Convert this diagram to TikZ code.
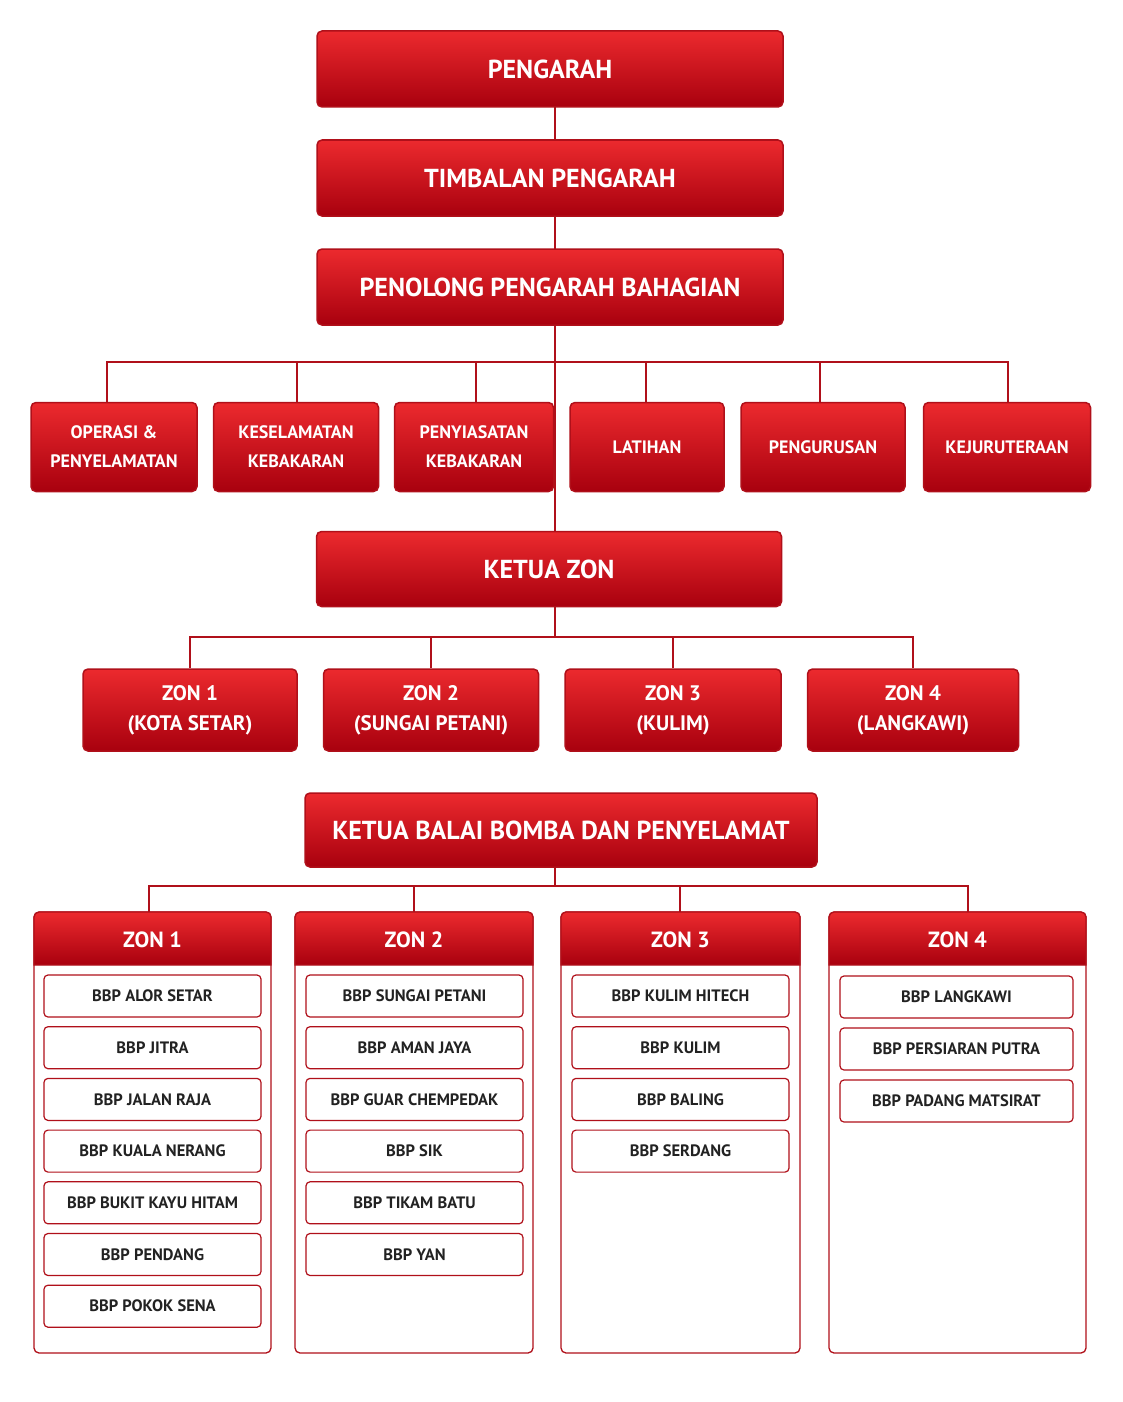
\documentclass[tikz,border=0pt]{standalone}
\usepackage{fontspec}
\setmainfont{PT Sans}
\usetikzlibrary{backgrounds}
\definecolor{rtop}{HTML}{EC2A2E}
\definecolor{rbot}{HTML}{A8000E}
\definecolor{rdraw}{HTML}{B0101A}
\definecolor{itxt}{HTML}{222222}
\tikzset{
 rbox/.style={rounded corners=5pt, draw=rdraw, line width=1.5pt, top color=rtop, bottom color=rbot, text=white, align=center, inner sep=0pt, font=\bfseries},
 big/.style={rbox, font=\fontsize{26}{28}\selectfont\bfseries},
 mid/.style={rbox, font=\fontsize{18}{29}\selectfont\bfseries},
 zn/.style={rbox, font=\fontsize{21}{30}\selectfont\bfseries},
 panel/.style={draw=rdraw, line width=1.3pt, rounded corners=5pt, fill=white, inner sep=0pt},
 item/.style={draw=rdraw, line width=1.2pt, rounded corners=4pt, fill=white, text=itxt, inner sep=0pt, minimum height=42pt, font=\fontsize{16.5}{18}\selectfont\bfseries},
 conn/.style={draw=rdraw, line width=2pt},
 hd/.style={text=white, font=\fontsize{22}{26}\selectfont\bfseries},
}
\begin{document}
\begin{tikzpicture}[x=1pt,y=-1pt]
\useasboundingbox (0,0) rectangle (1122,1402);
\node[big, minimum width=466pt, minimum height=76pt] (p) at (550,69) {PENGARAH};
\node[big, minimum width=466pt, minimum height=76pt] (t) at (550,178) {TIMBALAN PENGARAH};
\node[big, minimum width=466pt, minimum height=76pt] (pen) at (550,287) {PENOLONG PENGARAH BAHAGIAN};
\node[mid, minimum width=166pt, minimum height=89pt] (o1) at (114,447) {OPERASI \&\\PENYELAMATAN};
\node[mid, minimum width=165pt, minimum height=89pt] (o2) at (296,447) {KESELAMATAN\\KEBAKARAN};
\node[mid, minimum width=159pt, minimum height=89pt] (o3) at (474,447) {PENYIASATAN\\KEBAKARAN};
\node[mid, minimum width=154pt, minimum height=89pt] (o4) at (647,447) {LATIHAN};
\node[mid, minimum width=164pt, minimum height=89pt] (o5) at (823,447) {PENGURUSAN};
\node[mid, minimum width=167pt, minimum height=89pt] (o6) at (1007,447) {KEJURUTERAAN};
\node[big, minimum width=465pt, minimum height=75pt] (kz) at (549,569) {KETUA ZON};
\node[zn, minimum width=214pt, minimum height=82pt] (z1) at (190,710) {ZON 1\\(KOTA SETAR)};
\node[zn, minimum width=215pt, minimum height=82pt] (z2) at (431,710) {ZON 2\\(SUNGAI PETANI)};
\node[zn, minimum width=216pt, minimum height=82pt] (z3) at (673,710) {ZON 3\\(KULIM)};
\node[zn, minimum width=211pt, minimum height=82pt] (z4) at (913,710) {ZON 4\\(LANGKAWI)};
\node[big, minimum width=512pt, minimum height=74pt] (kb) at (561,830) {KETUA BALAI BOMBA DAN PENYELAMAT};
% panels
\foreach \n/\a/\b in {1/34/271,2/295/533,3/561/800,4/829/1086}{
  \node[panel, minimum width={\b-\a}, minimum height=441pt] (P\n) at ({(\a+\b)/2},1132.5) {};
  \shade[top color=rtop, bottom color=rbot, draw=rdraw, line width=1.3pt] (\a,965) [rounded corners=5pt] -- (\a,912) -- (\b,912) [sharp corners] -- (\b,965) -- cycle;
  \node[hd] (H\n) at ({(\a+\b)/2},940) {ZON \n};
}
\foreach \t [count=\i] in {BBP ALOR SETAR,BBP JITRA,BBP JALAN RAJA,BBP KUALA NERANG,BBP BUKIT KAYU HITAM,BBP PENDANG,BBP POKOK SENA}
  \node[item, minimum width=217pt] (a\i) at (152.5,{996+51.7*(\i-1)}) {\t};
\foreach \t [count=\i] in {BBP SUNGAI PETANI,BBP AMAN JAYA,BBP GUAR CHEMPEDAK,BBP SIK,BBP TIKAM BATU,BBP YAN}
  \node[item, minimum width=217pt] (b\i) at (414.5,{996+51.7*(\i-1)}) {\t};
\foreach \t [count=\i] in {BBP KULIM HITECH,BBP KULIM,BBP BALING,BBP SERDANG}
  \node[item, minimum width=217pt] (c\i) at (680.5,{996+51.7*(\i-1)}) {\t};
\foreach \t [count=\i] in {BBP LANGKAWI,BBP PERSIARAN PUTRA,BBP PADANG MATSIRAT}
  \node[item, minimum width=233pt] (d\i) at (956.5,{997+52*(\i-1)}) {\t};
\begin{pgfonlayer}{background}
\fill[white] (0,0) rectangle (1122,1402);
\coordinate (b1) at (555,362);
\coordinate (b2) at (555,637);
\coordinate (b3) at (555,886);
\draw[conn] (555,107) -- (555,141);
\draw[conn] (555,216) -- (555,250);
\draw[conn] (555,325) -- (b1) -- (kz.north -| b1);
\draw[conn] (107,403) |- (b1) -| (1008,403);
\draw[conn] (297,403) -- (297,362) (476,403) -- (476,362) (646,403) -- (646,362) (820,403) -- (820,362);
\draw[conn] (kz.south -| b2) -- (b2);
\draw[conn] (z1.north) |- (b2) -| (z4.north);
\draw[conn] (z2.north) -- (z2.north |- b2) (z3.north) -- (z3.north |- b2);
\draw[conn] (kb.south -| b3) -- (b3);
\draw[conn] (149,912) |- (b3) -| (968,912);
\draw[conn] (414,912) -- (414,886) (680,912) -- (680,886);
\end{pgfonlayer}
\end{tikzpicture}
\end{document}
